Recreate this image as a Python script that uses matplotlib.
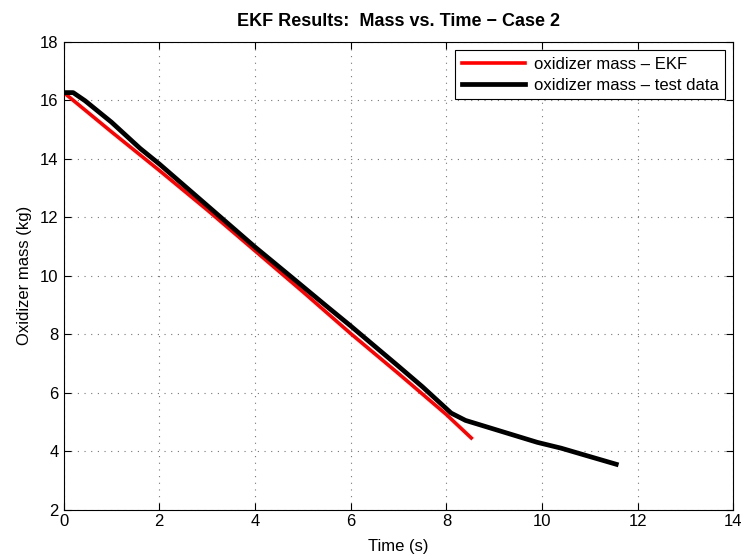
import numpy as np
import matplotlib.pyplot as plt

plt.rcParams['font.family'] = ['Liberation Sans', 'DejaVu Sans']

# EKF estimate
t_ekf = [0.05, 1.0, 2.0, 3.0, 4.0, 5.0, 6.0, 7.0, 8.0, 8.52]
m_ekf = [16.2, 14.92, 13.6, 12.25, 10.85, 9.45, 8.02, 6.65, 5.25, 4.45]

# test data
t_test = [0.0, 0.2, 0.45, 1.0, 1.6, 2.0, 3.0, 4.0, 4.8, 5.5, 6.0, 7.0, 7.5,
          7.9, 8.1, 8.4, 8.7, 9.3, 9.9, 10.4, 10.9, 11.55]
m_test = [16.26, 16.26, 15.98, 15.25, 14.35, 13.82, 12.4, 10.98, 9.9, 8.95,
          8.28, 6.9, 6.2, 5.6, 5.3, 5.05, 4.9, 4.6, 4.3, 4.1, 3.86, 3.55]

fig = plt.figure(figsize=(7.48, 5.6), dpi=100)
ax = fig.add_axes([0.085, 0.09, 0.8956, 0.8355])

ax.plot(t_ekf, m_ekf, color='red', lw=2.6, label='oxidizer mass \u2013 EKF')
ax.plot(t_test, m_test, color='black', lw=3.4, label='oxidizer mass \u2013 test data')

ax.set_xlim(0, 14)
ax.set_ylim(2, 18)
ax.set_xticks(np.arange(0, 15, 2))
ax.set_yticks(np.arange(2, 19, 2))
ax.grid(True, linestyle=(0, (1, 5)), color='#777777', lw=0.8)
ax.tick_params(direction='in', top=True, right=True, labelsize=12, length=5)

ax.set_xlabel('Time (s)', fontsize=12, labelpad=7)
ax.set_ylabel('Oxidizer mass (kg)', fontsize=12, labelpad=6)
ax.set_title('EKF Results:  Mass vs. Time \u2212 Case 2', fontsize=13,
             fontweight='bold', pad=11)

leg = ax.legend(loc='upper right', fontsize=12, fancybox=False,
                edgecolor='black', framealpha=1, handlelength=3.8,
                borderaxespad=0.5, borderpad=0.4, labelspacing=0.35,
                handletextpad=0.5)
leg.get_frame().set_linewidth(0.8)

fig.savefig('out.png', dpi=100)
